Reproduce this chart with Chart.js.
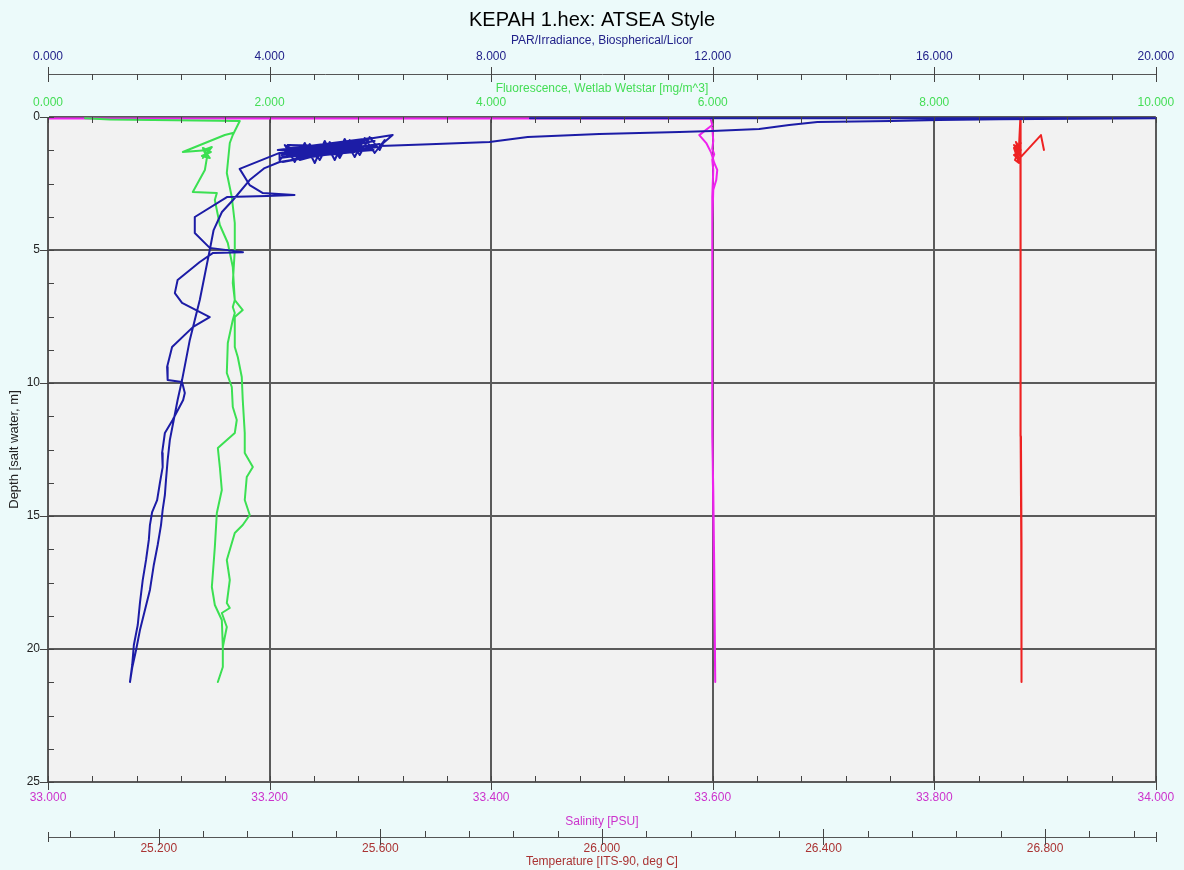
<!DOCTYPE html>
<html>
<head>
<meta charset="utf-8">
<script src="https://cdn.jsdelivr.net/npm/chart.js@4.4.1/dist/chart.umd.min.js"></script>
<style>
  body { margin: 0; background: #ecfafa; }
  canvas { display: block; }
</style>
</head>
<body>
<canvas id="js--profile" width="1184" height="870"></canvas>
<script>
const FONT = "'Liberation Sans', Arial, sans-serif";

// PAR/Irradiance (surface, drop to ~1 m, soak, downcast, upcast)
const parValue = [24.0, 8.70, 21.0,
  20.00, 17.17, 16.09, 15.22, 13.89, 13.38, 12.84, 11.99, 11.40, 9.95, 8.66, 7.97, 6.89, 5.99,
  6.222, 4.274, 5.897, 4.184, 5.807, 4.364, 5.717, 4.238, 5.987, 4.454, 5.627, 4.148, 5.843, 4.545, 5.537, 4.220,
  5.771, 4.328, 5.951, 4.400, 5.446, 4.184, 5.356, 4.635, 5.266, 4.725, 5.663, 4.292, 5.879, 4.473, 5.086, 4.815,
  5.537, 4.545,
  4.274, 4.454, 4.635, 4.815, 4.996, 5.176, 5.356, 5.537, 5.717, 5.897, 6.078, 5.987, 5.807, 5.627, 5.446, 5.266,
  5.086, 4.905, 4.725, 4.545, 4.364, 4.184,
  4.18,
  3.46, 3.64, 3.88, 4.45, 3.95, 3.23, 2.65, 2.65, 2.92, 3.52, 2.98, 2.74, 2.34, 2.29, 2.42, 2.92, 2.62, 2.24, 2.15,
  2.16, 2.42, 2.47, 2.44, 2.25, 2.11, 2.06, 2.07, 2.02, 1.97, 1.88, 1.84, 1.82, 1.77, 1.71, 1.66, 1.62, 1.55, 1.52, 1.48,
  1.52, 1.59, 1.66, 1.75, 1.84, 1.91, 1.98, 2.04, 2.07, 2.11, 2.13, 2.16, 2.20, 2.27, 2.34, 2.42, 2.49, 2.56, 2.65,
  2.74, 2.83, 2.92, 2.99, 3.14, 3.34, 3.64, 3.91, 4.18, 4.60];
const parDepth = [0.05, 0.05, 0.05,
  0.05, 0.08, 0.11, 0.15, 0.19, 0.30, 0.45, 0.53, 0.56, 0.64, 0.75, 0.94, 1.02, 1.09,
  0.677, 1.316, 0.902, 1.541, 1.090, 1.165, 0.977, 1.692, 1.015, 1.429, 1.203, 1.241, 0.789, 1.617, 1.053, 1.429,
  1.241, 1.053, 1.128, 1.617, 0.940, 1.353, 1.241, 1.128, 1.429, 1.241, 0.865, 1.504, 1.241, 1.278, 1.090, 1.466,
  1.316, 1.353,
  1.053, 1.692, 0.977, 1.729, 0.902, 1.617, 0.827, 1.504, 0.789, 1.353, 0.865, 1.241, 0.752, 1.429, 0.865, 1.541,
  0.940, 1.617, 1.015, 1.541, 1.165, 1.617,
  1.35,
  1.95, 2.56, 2.86, 2.93, 2.97, 3.01, 3.76, 4.36, 4.92, 5.08, 5.11, 5.45, 6.13, 6.62, 6.99, 7.52, 7.89, 8.65, 9.40,
  9.89, 9.96, 10.38, 10.64, 11.39, 11.88, 12.63, 13.16, 13.76, 14.40, 14.85, 15.34, 15.90, 16.65, 17.41, 18.27, 19.10, 19.85, 20.60, 21.24,
  20.71, 20.04, 19.29, 18.53, 17.78, 16.84, 16.09, 15.34, 14.77, 14.21, 13.65, 12.90, 12.14, 11.39, 10.64, 9.89, 9.14, 8.38, 7.63,
  6.88, 5.94, 5.00, 4.25, 3.57, 3.12, 2.37, 1.92, 1.69, 1.55];

// Fluorescence
const flValue = [0.334, 0.559, 1.731,
  1.668, 1.641, 1.614, 1.659, 1.686, 1.686, 1.668, 1.686, 1.758, 1.686, 1.686, 1.713, 1.749, 1.758, 1.776, 1.776,
  1.849, 1.794, 1.776, 1.821, 1.758, 1.686, 1.614, 1.641, 1.614, 1.641, 1.569, 1.614, 1.578, 1.578, 1.533,
  1.578, 1.578, 1.569, 1.506, 1.479, 1.506, 1.524, 1.569, 1.551, 1.533, 1.686, 1.704, 1.668, 1.659, 1.614, 1.623,
  1.668, 1.686, 1.668, 1.686, 1.668, 1.623, 1.551, 1.506, 1.524, 1.307, 1.416, 1.434,
  1.398, 1.470, 1.389, 1.461, 1.407, 1.479, 1.398, 1.452, 1.217, 1.596, 1.668];
const flDepth = [0.050, 0.090, 0.150,
  0.677, 0.977, 2.105, 3.008, 3.985, 5.000, 6.241, 6.880, 7.256, 7.519, 8.647, 9.023, 9.774, 10.639, 11.880, 12.632,
  13.158, 13.534, 14.398, 14.962, 15.338, 15.639, 16.654, 17.406, 18.271, 18.459, 18.647, 19.173, 19.925, 20.677, 21.241,
  20.677, 19.925, 18.910, 18.346, 17.669, 16.165, 14.887, 14.023, 13.158, 12.444, 11.880, 11.391, 10.902, 10.150, 9.624, 8.496,
  7.632, 7.368, 7.143, 6.880, 5.639, 4.737, 4.060, 3.120, 2.857, 2.820, 1.992, 1.541,
  1.165, 1.316, 1.466, 1.541, 1.241, 1.128, 1.541, 1.241, 1.316, 0.677, 0.600];

// Salinity
const salValue = [32.9, 33.598, 33.5996, 33.5879, 33.5942, 33.5987, 33.6014, 33.6041, 33.6032, 33.6005,
  33.5996, 33.5996, 33.5996, 33.6005, 33.6014, 33.6023,
  33.6014, 33.6005, 33.5996, 33.5996, 33.5996, 33.6005, 33.5996, 33.6014, 33.5996, 33.6005, 33.5996];
const salDepth = [0.06, 0.06, 0.30, 0.68, 0.98, 1.35, 1.73, 1.99, 2.37, 2.74,
  4.00, 8.00, 12.00, 14.00, 17.00, 21.24,
  18.50, 15.00, 11.00, 6.00, 3.00, 2.00, 1.60, 1.40, 1.20, 0.90, 0.40];

// Temperature
const tempValue = [26.798, 26.7926, 26.7565,
  26.7439, 26.7565, 26.7439, 26.7547, 26.7457, 26.7565, 26.7457, 26.7529, 26.7439, 26.7547, 26.7475, 26.7529,
  26.7555, 26.7555, 26.7555, 26.756, 26.7565, 26.757, 26.758,
  26.757, 26.7565, 26.756, 26.7555, 26.7555];
const tempDepth = [1.24, 0.68, 1.50,
  1.053, 1.241, 1.429, 1.617, 1.241, 0.977, 1.617, 1.729, 1.165, 1.429, 0.940, 1.128,
  0.00, 1.50, 3.00, 8.00, 12.00, 16.00, 21.24,
  16.00, 12.00, 8.00, 3.00, 1.50];

// labelled ticks of the temperature axis
const tempTicks = [25.2, 25.6, 26.0, 26.4, 26.8];

function pairs(vals, depths) {
  return vals.map((v, i) => ({ x: v, y: depths[i] }));
}

function fixHeight(h) {
  return s => { s.height = h; };
}

const frame = {
  id: 'frame',
  beforeDraw(chart) {
    const { ctx, chartArea: a } = chart;
    ctx.save();
    ctx.fillStyle = '#ecfafa';
    ctx.fillRect(0, 0, chart.width, chart.height);
    ctx.fillStyle = '#f2f2f2';
    ctx.fillRect(a.left, a.top, a.right - a.left, a.bottom - a.top);
    ctx.restore();
  },
  afterDraw(chart) {
    const { ctx, chartArea: a, scales: s } = chart;
    ctx.save();
    ctx.strokeStyle = '#444';
    ctx.lineWidth = 1;
    ctx.beginPath();
    const vx = (scale, v, y0, y1) => {
      const x = Math.round(scale.getPixelForValue(v)) + 0.5;
      ctx.moveTo(x, y0); ctx.lineTo(x, y1);
    };
    const hy = (scale, v, x0, x1) => {
      const y = Math.round(scale.getPixelForValue(v)) + 0.5;
      ctx.moveTo(x0, y); ctx.lineTo(x1, y);
    };
    const parLine = s.xPar.bottom;
    for (let i = 0; i <= 25; i++) {
      const major = i % 5 === 0;
      vx(s.xPar, i * 0.8, a.top, a.top + 6);
      vx(s.xPar, i * 0.8, major ? parLine - 7 : parLine, parLine + (major ? 8 : 6));
    }
    for (let i = 0; i <= 25; i++) {
      const major = i % 5 === 0;
      vx(s.xSal, 33 + i * 0.04, a.bottom - 6, major ? a.bottom + 8 : a.bottom);
    }
    const tLine = s.xTemp.top;
    vx(s.xTemp, 25, tLine - 5, tLine + 5);
    vx(s.xTemp, 27, tLine - 5, tLine + 5);
    for (let i = 0; i < 25; i++) {
      const v = 25.04 + i * 0.08;
      const major = tempTicks.some(t => Math.abs(t - v) < 1e-6);
      vx(s.xTemp, v, tLine - (major ? 8 : 6), major ? tLine + 8 : tLine);
    }
    for (let i = 0; i <= 20; i++) {
      const major = i % 4 === 0;
      hy(s.y, i * 1.25, major ? a.left - 8 : a.left, a.left + 6);
    }
    ctx.stroke();
    ctx.restore();
  }
};

const tickFont = { family: FONT, size: 12 };
const titleFont = { family: FONT, size: 12 };

const config = {
  type: 'scatter',
  data: {
    datasets: [
      { label: 'PAR', data: pairs(parValue, parDepth), xAxisID: 'xPar', yAxisID: 'y', borderColor: '#1c1ca6' },
      { label: 'Fluorescence', data: pairs(flValue, flDepth), xAxisID: 'xFl', yAxisID: 'y', borderColor: '#3be052' },
      { label: 'Salinity', data: pairs(salValue, salDepth), xAxisID: 'xSal', yAxisID: 'y', borderColor: '#ee22ee' },
      { label: 'Temperature', data: pairs(tempValue, tempDepth), xAxisID: 'xTemp', yAxisID: 'y', borderColor: '#ee2222' }
    ]
  },
  options: {
    responsive: false,
    animation: false,
    devicePixelRatio: 1,
    showLine: true,
    layout: { padding: 0 },
    elements: {
      point: { radius: 0, hoverRadius: 0 },
      line: { borderWidth: 2, tension: 0, borderJoinStyle: 'round', borderCapStyle: 'round' }
    },
    plugins: {
      legend: { display: false },
      tooltip: { enabled: false },
      title: {
        display: true,
        text: 'KEPAH 1.hex: ATSEA Style',
        color: '#000',
        font: { family: FONT, size: 20, weight: 'normal' },
        padding: { top: 8, bottom: 0 }
      }
    },
    scales: {
      xPar: {
        type: 'linear', axis: 'x', position: 'top', weight: 1,
        min: 0, max: 20,
        afterFit: fixHeight(42),
        grid: { display: true, drawTicks: false, color: '#5a5a5a', lineWidth: 2 },
        border: { display: true, color: '#555', width: 1 },
        ticks: { stepSize: 4, padding: 9.8, color: '#22228a', font: tickFont, maxRotation: 0, autoSkip: false,
          callback: v => v.toFixed(3) },
        title: { display: true, text: 'PAR/Irradiance, Biospherical/Licor', color: '#22228a', font: titleFont,
          padding: { top: 1.8, bottom: 0 } }
      },
      xFl: {
        type: 'linear', axis: 'x', position: 'top', weight: 0,
        min: 0, max: 10,
        afterFit: fixHeight(43),
        grid: { display: false, drawTicks: false },
        border: { display: false },
        ticks: { stepSize: 2, padding: 6.8, color: '#44dd55', font: tickFont, maxRotation: 0, autoSkip: false,
          callback: v => v.toFixed(3) },
        title: { display: true, text: 'Fluorescence, Wetlab Wetstar [mg/m^3]', color: '#44dd55', font: titleFont,
          padding: { top: 7.8, bottom: 0 } }
      },
      xSal: {
        type: 'linear', axis: 'x', position: 'bottom', weight: 0,
        min: 33, max: 34,
        afterFit: fixHeight(55),
        grid: { display: false, drawTicks: false },
        border: { display: false },
        ticks: { stepSize: 0.2, padding: 8.8, color: '#cc33cc', font: tickFont, maxRotation: 0, autoSkip: false,
          callback: v => v.toFixed(3) },
        title: { display: true, text: 'Salinity [PSU]', color: '#cc33cc', font: titleFont,
          padding: { top: 0, bottom: 7.8 } }
      },
      xTemp: {
        type: 'linear', axis: 'x', position: 'bottom', weight: 1,
        min: 25, max: 27,
        afterFit: fixHeight(33),
        afterBuildTicks: s => { s.ticks = tempTicks.map(v => ({ value: v })); },
        grid: { display: false, drawTicks: false },
        border: { display: true, color: '#555', width: 1 },
        ticks: { padding: 4.3, color: '#aa3333', font: tickFont, maxRotation: 0, autoSkip: false,
          callback: v => v.toFixed(3) },
        title: { display: true, text: 'Temperature [ITS-90, deg C]', color: '#aa3333', font: titleFont,
          padding: { top: 0, bottom: 0.8 } }
      },
      y: {
        type: 'linear', axis: 'y', position: 'left', reverse: true,
        min: 0, max: 25,
        afterFit: s => { s.width = 48; },
        grid: { display: true, drawTicks: false, color: '#5a5a5a', lineWidth: 2 },
        border: { display: true, color: '#555', width: 1 },
        ticks: { stepSize: 5, padding: 8, color: '#222', font: tickFont },
        title: { display: true, text: 'Depth [salt water, m]', color: '#222', font: { family: FONT, size: 13 },
          padding: { top: 6.2, bottom: 0 } }
      },
      // empty right-hand margin so the plot ends where the original does
      yMargin: {
        type: 'linear', axis: 'y', position: 'right',
        afterFit: s => { s.width = 27; },
        grid: { display: false, drawTicks: false },
        border: { display: false },
        ticks: { display: false },
        title: { display: false }
      }
    }
  },
  plugins: [frame]
};

const chart1 = new Chart(document.getElementById('js--profile'), config);
</script>
</body>
</html>
